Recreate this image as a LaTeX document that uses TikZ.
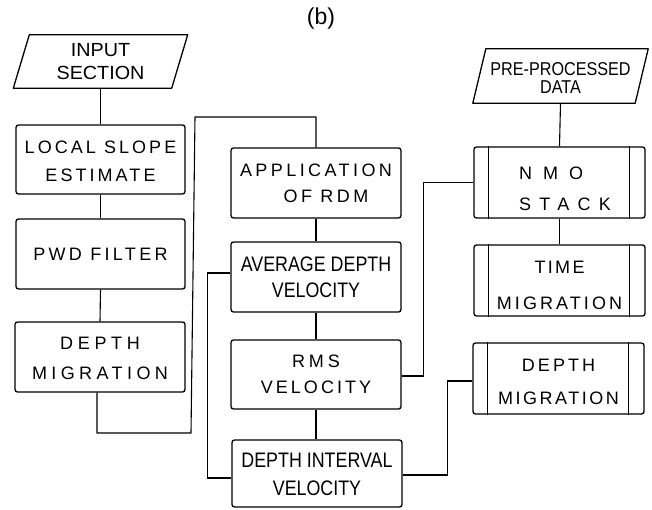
\documentclass[tikz,border=0pt]{standalone}
\usepackage{fontspec}
\setmainfont{Liberation Sans}
\newfontfamily\condfont[FakeStretch=0.85]{Liberation Sans}
\newfontfamily\wideio[FakeStretch=1.04]{Liberation Sans}
\newfontfamily\preio[FakeStretch=0.87]{Liberation Sans}
\newcommand{\tk}[2]{{\addfontfeature{LetterSpace=#1}#2}}
\newcommand{\lowerby}[1]{\rule{0pt}{\dimexpr 13pt+2\dimexpr #1\relax\relax}}
\usetikzlibrary{calc}

\tikzset{
  box/.style={draw, line width=1.3pt, rounded corners=2.5pt, minimum width=170pt,
              minimum height=70pt, inner sep=0pt, align=center},
  tracked/.style={font=\fontsize{18}{20}\selectfont\addfontfeature{LetterSpace=17}},
  narrow/.style={font=\condfont\fontsize{21}{26}\selectfont},
  ioframe/.style={minimum width=158pt, minimum height=53pt, inner sep=0pt, align=center},
  link/.style={line width=1.1pt},
  sub/.style={line width=1.1pt}
}

\begin{document}
\begin{tikzpicture}[x=1pt, y=-1pt]
\useasboundingbox (0,0) rectangle (652,510);

\node[font=\fontsize{23}{26}\selectfont] (title) at (321,19) {(b)};

% ---- left column: slope-driven depth migration ----
\node[ioframe, font=\wideio\fontsize{19}{23}\selectfont] (input) at (100.5,61.5) {INPUT\\SECTION};
\draw[line width=1.3pt, line join=round]
  ($(input.north west)+(8,0)$) -- ($(input.north east)+(8,0)$) --
  ($(input.south east)+(-8,0)$) -- ($(input.south west)+(-8,0)$) -- cycle;

\node[box, tracked, minimum width=169pt, minimum height=69pt] (slope) at (100.5,159.5)
  {\lowerby{2pt}LOCAL SLOPE\\[8pt]ESTIMATE};
\node[box, tracked, minimum width=169pt] (pwd) at (100.5,254) {\tk{18.5}{PWD FILTER}};
\node[box, tracked] (dmig) at (100,357)
  {\lowerby{1pt}\tk{26}{DEPTH}\\[10pt]\tk{24.5}{MIGRATION}};

% ---- middle column: velocity estimation ----
\node[box, tracked] (rdm) at (316,183) {\tk{19}{APPLICATION}\\[6pt]\hspace*{20pt}\tk{19}{OF RDM}};
\node[box, narrow] (avg) at (316,277) {AVERAGE DEPTH\\VELOCITY};
\node[box, tracked, minimum height=69pt] (rms) at (316,374.5)
  {\tk{22}{RMS}\\[6pt]VELOCITY};
\node[box, narrow, minimum height=67pt, font=\condfont\fontsize{21}{28}\selectfont] (dint) at (317,473.5)
  {\lowerby{2pt}DEPTH INTERVAL\\VELOCITY};

% ---- right column: conventional processing ----
\node[ioframe, minimum width=162pt, minimum height=54pt,
      font=\preio\fontsize{18.6}{18}\selectfont] (pre) at (560.5,76) {\lowerby{2pt}PRE-PROCESSED\\DATA};
\draw[line width=1.3pt, line join=round]
  ($(pre.north west)+(6.5,0)$) -- ($(pre.north east)+(6.5,0)$) --
  ($(pre.south east)+(-6.5,0)$) -- ($(pre.south west)+(-6.5,0)$) -- cycle;

\node[box, minimum width=171pt, minimum height=71pt] (nmo) at (559.5,182.5) {};
\node[tracked, align=left, inner sep=0pt, anchor=west] (nmotext) at (519,188.5)
  {\tk{61}{NMO}\\[11pt]\tk{46}{STACK}};
\node[box, tracked, minimum width=171pt, minimum height=71pt] (tmig) at (559.5,280.5)
  {\lowerby{5pt}\tk{13}{TIME}\\[16pt]MIGRATION};
\node[box, tracked, minimum width=171pt, minimum height=71pt] (dmig2) at (558.5,378.5)
  {\lowerby{3pt}DEPTH\\[13pt]\tk{14}{MIGRATION}};

% inner bars of the predefined-process boxes
\foreach \n in {nmo, tmig, dmig2} {
  \draw[sub] ([xshift=15pt]\n.north west) -- ([xshift=15pt]\n.south west);
  \draw[sub] ([xshift=-16pt]\n.north east) -- ([xshift=-16pt]\n.south east);
}

% ---- connectors ----
\coordinate (j1) at (191,433);
\coordinate (j2) at (195,117);

\draw[link] (input.south) -- (slope.north);
\draw[link] (slope.south) -- (pwd.north);
\draw[link] (pwd.south) -- (dmig.north);
\draw[link, line join=round] ([xshift=-3pt]dmig.south) |- (j1) -- (j2) -| (rdm.north);
\draw[link] (rdm.south) -- (avg.north);
\draw[link] (avg.south) -- (rms.north);
\draw[link] (rms.south) -- (rms.south |- dint.north);
\draw[link] ([yshift=4pt]avg.west) -- ++(-23,0) |- ([yshift=-4.5pt]dint.west);
\draw[link] ([yshift=-1.5pt]rms.east) -- ++(22,0) |- (nmo.west);
\draw[link] ([yshift=-1.5pt]dint.east) -- ++(45,0) |- ([yshift=-2.5pt]dmig2.west);
\draw[link] (pre.south) -- (nmo.north);
\draw[link] (nmo.south) -- (tmig.north);
\end{tikzpicture}
\end{document}
